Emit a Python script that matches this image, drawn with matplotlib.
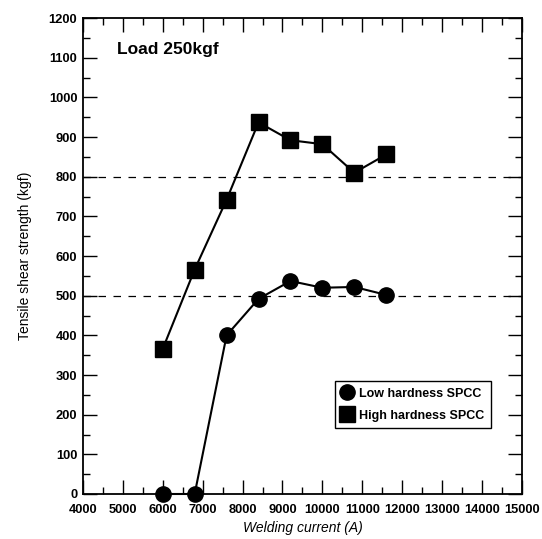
import matplotlib
matplotlib.use("Agg")
import matplotlib.pyplot as plt
from matplotlib.ticker import MultipleLocator

# values
current = [6000, 6800, 7600, 8400, 9200, 10000, 10800, 11600]
low_hard = [0, 0, 400, 492, 537, 520, 522, 502]
high_hard = [366, 566, 742, 937, 892, 882, 810, 856]
ref_lines = [800, 500]

plt.rcParams['font.family'] = ['Liberation Sans', 'DejaVu Sans']

fig = plt.figure(figsize=(5.42, 5.39), dpi=100)
ax = fig.add_axes([0.153, 0.0835, 0.81, 0.883])

for y in ref_lines:
    ax.axhline(y, color='black', lw=0.9, ls=(0, (6, 6)), zorder=1)

ax.plot(current, low_hard, '-o', color='black', lw=1.5, ms=11,
        label='Low hardness SPCC', zorder=3, clip_on=False)
ax.plot(current, high_hard, '-s', color='black', lw=1.5, ms=11.5,
        label='High hardness SPCC', zorder=3)

ax.set_xlim(4000, 15000)
ax.set_ylim(0, 1200)
ax.xaxis.set_major_locator(MultipleLocator(1000))
ax.xaxis.set_minor_locator(MultipleLocator(500))
ax.yaxis.set_major_locator(MultipleLocator(100))
ax.yaxis.set_minor_locator(MultipleLocator(50))
ax.tick_params(which='both', direction='in', top=True, right=True, width=1)
ax.tick_params(which='major', length=10, labelsize=9.3)
ax.tick_params(which='minor', length=5)
ax.tick_params(axis='x', which='major', pad=7)
ax.tick_params(axis='y', which='major', pad=4)
for lab in ax.get_xticklabels() + ax.get_yticklabels():
    lab.set_fontweight('bold')
for s in ax.spines.values():
    s.set_linewidth(1.3)

ax.set_xlabel('Welding current (A)', fontsize=10, style='italic', labelpad=4)
ax.set_ylabel('Tensile shear strength (kgf)', fontsize=10, labelpad=12)

ax.text(4850, 1120, 'Load 250kgf', fontsize=12.5, fontweight='bold', va='center')

leg = ax.legend(loc='lower right', bbox_to_anchor=(0.943, 0.126), frameon=True,
                fancybox=False, edgecolor='black', framealpha=1,
                prop={'weight': 'bold', 'size': 9}, handlelength=0.8,
                handletextpad=0.6, borderpad=0.5, labelspacing=0.8)
leg.get_frame().set_linewidth(1)
for h in leg.legend_handles:
    h.set_linestyle('')

fig.savefig('out.png', dpi=100)
